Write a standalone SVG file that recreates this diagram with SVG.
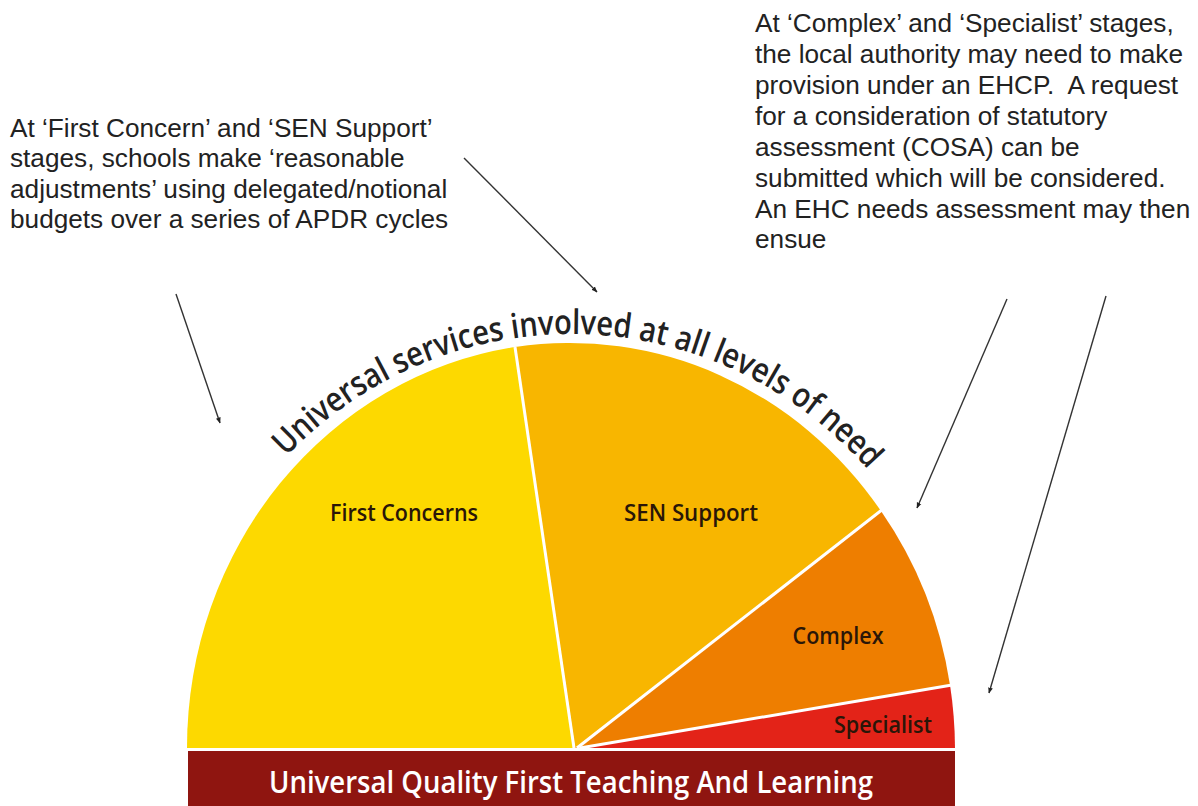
<svg xmlns="http://www.w3.org/2000/svg" width="1198" height="806" viewBox="0 0 1198 806">
<style>
.note{font-family:"Liberation Sans",Arial,sans-serif;font-size:26.2px;fill:#222}
.lbl{font-family:"Open Sans","Noto Sans",sans-serif;font-weight:600;font-size:23px;fill:#2a1608;text-anchor:middle}
.sep{stroke:#fff;stroke-width:3;fill:none}
.conn{stroke:#333;stroke-width:1.4;fill:none;marker-end:url(#ah)}
</style>
<defs>
<marker id="ah" viewBox="0 0 10 10" refX="9" refY="5" markerWidth="6" markerHeight="6" orient="auto" markerUnits="userSpaceOnUse">
<path d="M0,1 L10,5 L0,9 Z" fill="#222"/>
</marker>
<path id="arcTxt" d="M170,748 A401,414 0 0 1 972,748"/>
</defs>
<rect width="1198" height="806" fill="#fff"/>

<g id="note-left">
<text class="note" x="10" y="137">At ‘First Concern’ and ‘SEN Support’</text>
<text class="note" x="10" y="167">stages, schools make ‘reasonable</text>
<text class="note" x="10" y="198">adjustments’ using delegated/notional</text>
<text class="note" x="10" y="228">budgets over a series of APDR cycles</text>
</g>

<g id="note-right">
<text class="note" x="755" y="32">At ‘Complex’ and ‘Specialist’ stages,</text>
<text class="note" x="755" y="63">the local authority may need to make</text>
<text class="note" x="755" y="94">provision under an EHCP.&#160; A request</text>
<text class="note" x="755" y="125">for a consideration of statutory</text>
<text class="note" x="755" y="156">assessment (COSA) can be</text>
<text class="note" x="755" y="187">submitted which will be considered.</text>
<text class="note" x="755" y="218">An EHC needs assessment may then</text>
<text class="note" x="755" y="248">ensue</text>
</g>

<g id="first-concerns">
<path d="M575,748 L187,748 A384,405 0 0 1 515,347 Z" fill="#FDD900"/>
<text class="lbl" x="404" y="521" textLength="148" lengthAdjust="spacingAndGlyphs">First Concerns</text>
</g>
<g id="sen-support">
<path d="M575,748 L515,347 A384,405 0 0 1 881,511 Z" fill="#F8B600"/>
<text class="lbl" x="691" y="521" textLength="134" lengthAdjust="spacingAndGlyphs">SEN Support</text>
</g>
<g id="complex">
<path d="M575,748 L881,511 A384,405 0 0 1 950,685 Z" fill="#EE7E00"/>
<text class="lbl" x="838" y="644" textLength="91" lengthAdjust="spacingAndGlyphs">Complex</text>
</g>
<g id="specialist">
<path d="M575,748 L950,685 A384,405 0 0 1 955,748 Z" fill="#E32318"/>
<text class="lbl" x="883" y="733" textLength="98" lengthAdjust="spacingAndGlyphs">Specialist</text>
</g>
<g id="separators">
<line class="sep" x1="515" y1="347" x2="574" y2="748"/>
<line class="sep" x1="883" y1="509" x2="577" y2="748"/>
<line class="sep" x1="952" y1="685" x2="580" y2="748"/>
<line class="sep" x1="180" y1="749.5" x2="960" y2="749.5"/>
</g>

<g id="arc-title">
<text font-family="'Open Sans','Noto Sans',sans-serif" font-weight="600" font-size="34" fill="#222">
<textPath href="#arcTxt" startOffset="50.7%" text-anchor="middle" textLength="655" lengthAdjust="spacingAndGlyphs">Universal services involved at all levels of need</textPath>
</text>
</g>

<g id="base-band">
<rect x="188" y="751" width="767" height="55" fill="#8F1510"/>
<text x="571" y="793" font-family="'Open Sans','Noto Sans',sans-serif" font-weight="600" font-size="30" fill="#fff" text-anchor="middle" textLength="604" lengthAdjust="spacingAndGlyphs">Universal Quality First Teaching And Learning</text>
</g>

<g id="connectors">
<line class="conn" x1="176" y1="294" x2="220" y2="423"/>
<line class="conn" x1="464" y1="158" x2="597" y2="292"/>
<line class="conn" x1="1007" y1="299" x2="917" y2="508"/>
<line class="conn" x1="1106" y1="296" x2="989" y2="693"/>
</g>
</svg>
